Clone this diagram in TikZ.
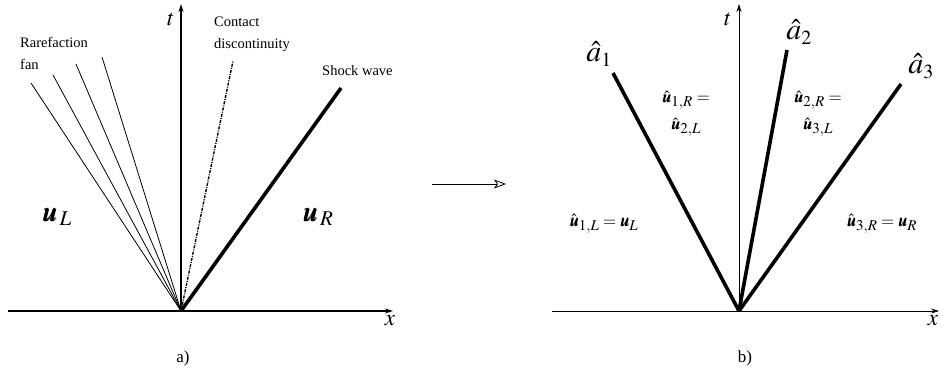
\documentclass[tikz,border=0pt]{standalone}
\usepackage{mathptmx}
\usepackage{amsmath}
\usepackage{bm}
\usepackage{fontspec}
\setmainfont{Liberation Serif}
\usetikzlibrary{arrows.meta}
\DeclareMathSizes{30}{30}{20}{15}
\DeclareMathSizes{28}{28}{21}{15}
\DeclareMathSizes{17}{17}{15}{12}

\begin{document}
\begin{tikzpicture}[
					x=1pt,y=-1pt,
					axis/.style={-{Stealth[length=8pt,width=5pt]},line width=1.2pt},
					thinaxis/.style={-{Stealth[length=8pt,width=5pt]},line width=0.7pt},
					fanline/.style={line width=0.8pt},
					contact/.style={line width=1.4pt,dash pattern=on 3pt off 1.2pt on 1pt off 1.2pt},
					wave/.style={line width=3.6pt},
					smalltxt/.style={font=\fontsize{14.5}{22}\selectfont,align=left,inner sep=0pt},
					statelbl/.style={font=\fontsize{28}{30}\selectfont,inner sep=0pt},
					hatlbl/.style={font=\fontsize{17}{27}\selectfont,align=center,inner sep=0pt},
					axlbl/.style={font=\fontsize{23}{25}\selectfont,inner sep=0pt},
					speedlbl/.style={font=\fontsize{30}{32}\selectfont,inner sep=0pt}
					]
					\useasboundingbox (0,0) rectangle (943,379);
					% panel a
					\coordinate (oa) at (181,311);
					\coordinate (xa0) at (8,311);
					\coordinate (xa1) at (393,311);
					\coordinate (ta1) at (181,4);
					\draw[axis] (xa0) -- (xa1);
					\draw[axis] (oa) -- (ta1);
					\node[axlbl] (xlba) at (390,321) {$x$};
					\node[axlbl] (tlba) at (171,19) {$t$};
					\foreach \i/\x/\y in {1/31/83,2/53/75,3/76/64,4/102/57}{
						\coordinate (fan\i) at (\x,\y);
						\draw[fanline] (oa) -- (fan\i);
					}
					\coordinate (cd) at (233,61);
					\draw[contact] (oa) -- (cd);
					\coordinate (sw) at (341,88);
					\draw[wave] (oa) -- (sw);
					\node[smalltxt,anchor=west] (rare) at (20,53) {Rarefaction\\fan};
					\node[smalltxt,anchor=west] (cont) at (214,34) {Contact\\discontinuity};
					\node[smalltxt,anchor=west] (shock) at (322,71) {Shock wave};
					\node[statelbl] (ul) at (57,217) {$\bm{u}_{\,L}$};
					\node[statelbl] (ur) at (318,217) {$\bm{u}_{\,R}$};
					\node[font=\fontsize{17}{19}\selectfont] (capa) at (183,358) {a)};
					% arrow between
					\coordinate (mid0) at (432,184);
					\coordinate (mid1) at (506,184);
					\draw[line width=0.8pt,-{Stealth[open,length=12pt,width=9pt,inset=3pt]}] (mid0) -- (mid1);
					% panel b
					\coordinate (ob) at (739,311);
					\coordinate (xb0) at (552,311);
					\coordinate (xb1) at (939,311);
					\coordinate (tb1) at (739,4);
					\draw[thinaxis] (xb0) -- (xb1);
					\draw[thinaxis] (ob) -- (tb1);
					\node[axlbl] (xlbb) at (933,321) {$x$};
					\node[axlbl] (tlbb) at (728,19) {$t$};
					\foreach \i/\x/\y in {1/613/73,2/787/50,3/901/84}{
						\coordinate (a\i) at (\x,\y);
						\draw[wave] (ob) -- (a\i);
					}
					\node[speedlbl] (al1) at (599,54) {$\hat{a}_1$};
					\node[speedlbl] (al2) at (799,32) {$\hat{a}_2$};
					\node[speedlbl] (al3) at (921,66) {$\hat{a}_3$};
					\node[hatlbl] (s12) at (686,114) {$\hat{\bm{u}}_{1,R}=$\\$\hat{\bm{u}}_{2,L}$};
					\node[hatlbl] (s23) at (818,114) {$\hat{\bm{u}}_{2,R}=$\\$\hat{\bm{u}}_{3,L}$};
					\node[hatlbl] (s1l) at (604,224) {$\hat{\bm{u}}_{1,L}=\bm{u}_L$};
					\node[hatlbl] (s3r) at (882,224) {$\hat{\bm{u}}_{3,R}=\bm{u}_R$};
					\node[font=\fontsize{17}{19}\selectfont] (capb) at (745,358) {b)};
				\end{tikzpicture}
\end{document}
